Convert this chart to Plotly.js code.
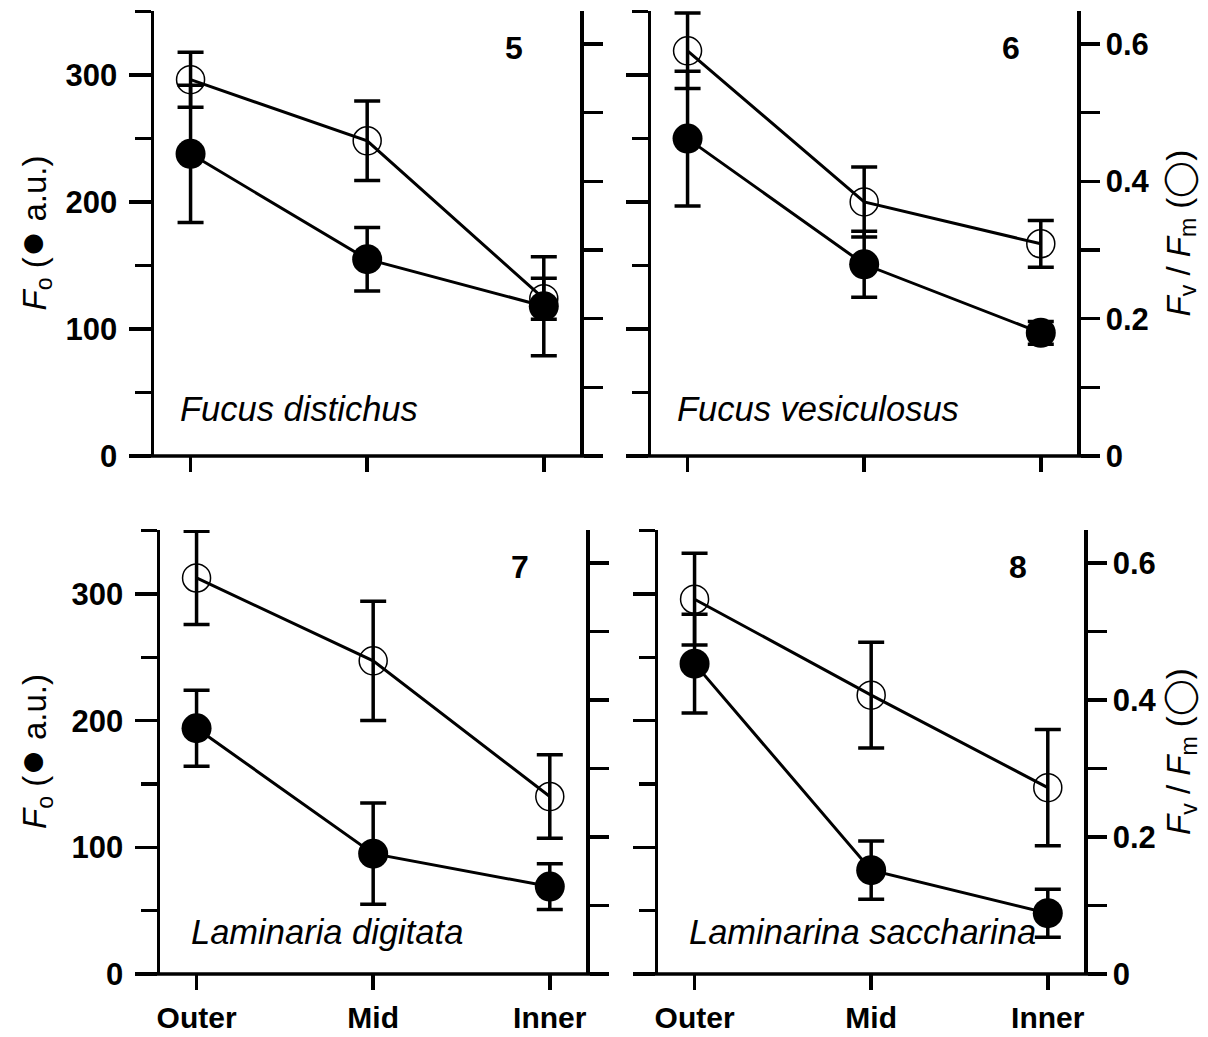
<!DOCTYPE html>
<html>
<head>
<meta charset="utf-8">
<script src="https://cdn.plot.ly/plotly-3.0.1.min.js"></script>
<style>html,body{margin:0;padding:0;background:#fff;}#chart{width:1208px;height:1037px;}</style>
</head>
<body>
<div id="chart"></div>
<script>
// ---- data ----
const categories = ['Outer', 'Mid', 'Inner'];
const speciesNames = ['Fucus distichus', 'Fucus vesiculosus', 'Laminaria digitata', 'Laminarina saccharina'];
const panelNumbers = ['5', '6', '7', '8'];

const fo5 = [238, 155, 118];
const fo5Err = [54, 25, 39];
const fvfm5 = [0.548, 0.459, 0.229];
const fvfm5Err = [0.040, 0.058, 0.030];

const fo6 = [250, 151, 97];
const fo6Err = [53, 26, 9];
const fvfm6 = [0.590, 0.370, 0.309];
const fvfm6Err = [0.055, 0.051, 0.034];

const fo7 = [194, 95, 69];
const fo7Err = [30, 40, 18];
const fvfm7 = [0.578, 0.457, 0.259];
const fvfm7Err = [0.068, 0.087, 0.061];

const fo8 = [245, 82, 48];
const fo8Err = [39, 23, 19];
const fvfm8 = [0.547, 0.407, 0.272];
const fvfm8Err = [0.067, 0.077, 0.085];

const foTicks = [0, 100, 200, 300];
const fvfmTicks = [0, 0.2, 0.4, 0.6];

// ---- layout geometry ----
const W = 1208, H = 1037;
const panels = [
  {x0: 154, x1: 580, yt: 11, yb: 456},
  {x0: 651, x1: 1077, yt: 11, yb: 456},
  {x0: 160, x1: 586, yt: 530, yb: 974},
  {x0: 658, x1: 1084, yt: 530, yb: 974}
];
const foSeries = [[fo5, fo5Err], [fo6, fo6Err], [fo7, fo7Err], [fo8, fo8Err]];
const fvSeries = [[fvfm5, fvfm5Err], [fvfm6, fvfm6Err], [fvfm7, fvfm7Err], [fvfm8, fvfm8Err]];

const FONT = '"Liberation Sans", Arial, sans-serif';
const LW = 3.5;
const px = v => v / W;
const py = v => 1 - v / H;

const data = [];
const layout = {
  width: W, height: H,
  margin: {l: 0, r: 0, t: 0, b: 0},
  paper_bgcolor: '#fff', plot_bgcolor: 'rgba(0,0,0,0)',
  showlegend: false,
  font: {family: FONT, color: '#000'},
  shapes: [], annotations: []
};

panels.forEach((p, i) => {
  const n = i + 1;
  const xk = n === 1 ? 'x' : 'x' + n;
  const rightId = 2 * n - 1, leftId = 2 * n;
  const yR = rightId === 1 ? 'y' : 'y' + rightId;
  const yL = 'y' + leftId;
  const isBottom = i >= 2, isRight = (i % 2) === 1;
  const ydom = [py(p.yb), py(p.yt)];

  layout[n === 1 ? 'xaxis' : 'xaxis' + n] = {
    domain: [px(p.x0), px(p.x1)], anchor: yR,
    type: 'category', categoryorder: 'array', categoryarray: categories,
    range: [-0.207, 2.205],
    showline: false, showgrid: false, zeroline: false,
    ticks: 'outside', ticklen: 15, tickwidth: LW, tickcolor: '#000',
    showticklabels: isBottom,
    tickfont: {family: FONT, size: 30, weight: 'bold', color: '#000'},
    ticklabelstandoff: 2,
    fixedrange: true
  };
  // right axis: Fv/Fm (base axis)
  layout['yaxis' + (rightId === 1 ? '' : rightId)] = {
    domain: ydom, anchor: xk, side: 'right',
    range: [0, 0.648],
    showline: true, linewidth: LW, linecolor: '#000',
    showgrid: false, zeroline: false,
    tickmode: 'array', tickvals: fvfmTicks, ticktext: fvfmTicks.map(String),
    ticks: 'outside', ticklen: 19, tickwidth: LW, tickcolor: '#000',
    minor: {dtick: 0.1, tick0: 0, ticks: 'outside', ticklen: 19, tickwidth: LW, tickcolor: '#000', showgrid: false},
    showticklabels: isRight,
    tickfont: {family: FONT, size: 31, weight: 'bold', color: '#000'},
    ticklabelstandoff: 0,
    fixedrange: true
  };
  // left axis: Fo (overlay, drawn on top)
  layout['yaxis' + leftId] = {
    domain: ydom, anchor: xk, side: 'left', overlaying: yR,
    range: [0, 350.5],
    showline: true, linewidth: LW, linecolor: '#000',
    showgrid: false, zeroline: false,
    tickmode: 'array', tickvals: foTicks, ticktext: foTicks.map(String),
    ticks: 'outside', ticklen: 22, tickwidth: LW, tickcolor: '#000',
    minor: {dtick: 50, tick0: 0, ticks: 'outside', ticklen: 16, tickwidth: LW, tickcolor: '#000', showgrid: false},
    showticklabels: !isRight,
    tickfont: {family: FONT, size: 31, weight: 'bold', color: '#000'},
    ticklabelstandoff: 5,
    fixedrange: true
  };

  // open circles: Fv/Fm
  data.push({
    type: 'scatter', mode: 'lines+markers', xaxis: xk, yaxis: yR,
    x: categories, y: fvSeries[i][0],
    error_y: {type: 'data', array: fvSeries[i][1], visible: true, color: '#000', thickness: LW, width: 13},
    line: {color: '#000', width: 3},
    marker: {symbol: 'circle-open', size: 28, color: '#000', line: {width: 1.5, color: '#000'}},
    hoverinfo: 'skip'
  });
  // filled circles: Fo
  data.push({
    type: 'scatter', mode: 'lines+markers', xaxis: xk, yaxis: yL,
    x: categories, y: foSeries[i][0],
    error_y: {type: 'data', array: foSeries[i][1], visible: true, color: '#000', thickness: LW, width: 13},
    line: {color: '#000', width: 3},
    marker: {symbol: 'circle', size: 30, color: '#000'},
    hoverinfo: 'skip'
  });

  // bottom axis line extending past both y axes
  layout.shapes.push({
    type: 'line', xref: 'paper', yref: 'paper',
    x0: px(p.x0 - 22), x1: px(p.x1 + 19), y0: py(p.yb), y1: py(p.yb),
    line: {color: '#000', width: LW}
  });

  // panel number
  layout.annotations.push({
    xref: 'paper', yref: 'paper', x: px(p.x1 - 66), y: py(p.yt + 37),
    text: '<b>' + panelNumbers[i] + '</b>', showarrow: false,
    xanchor: 'center', yanchor: 'middle',
    font: {family: FONT, size: 32, color: '#000'}
  });
  // species name
  layout.annotations.push({
    xref: 'paper', yref: 'paper', x: px(p.x0 + 24 + (isBottom ? 5 : 0)), y: py(p.yb - (isBottom ? 42 : 47)),
    text: '<i>' + speciesNames[i] + '</i>', showarrow: false,
    xanchor: 'left', yanchor: 'middle',
    font: {family: FONT, size: 34.5, color: '#000'}
  });
  // axis titles
  const yc = py((p.yt + p.yb) / 2);
  if (!isRight) {
    layout.annotations.push({
      xref: 'paper', yref: 'paper', x: px(32), y: yc, textangle: -90,
      text: '<i>F</i><sub>o</sub> (<span style="font-size:44px">\u25CF</span> a.u.)', showarrow: false,
      xanchor: 'center', yanchor: 'middle',
      font: {family: FONT, size: 33, color: '#000'}
    });
  } else {
    layout.annotations.push({
      xref: 'paper', yref: 'paper', x: px(1180), y: yc, textangle: -90,
      text: '<i>F</i><sub>v</sub> / <i>F</i><sub>m</sub> (<span style="font-family:DejaVu Sans;font-weight:100">\u25EF</span>)', showarrow: false,
      xanchor: 'center', yanchor: 'middle',
      font: {family: FONT, size: 33, color: '#000'}
    });
  }
});

Plotly.newPlot('chart', data, layout, {staticPlot: true, displayModeBar: false});
</script>
</body>
</html>
